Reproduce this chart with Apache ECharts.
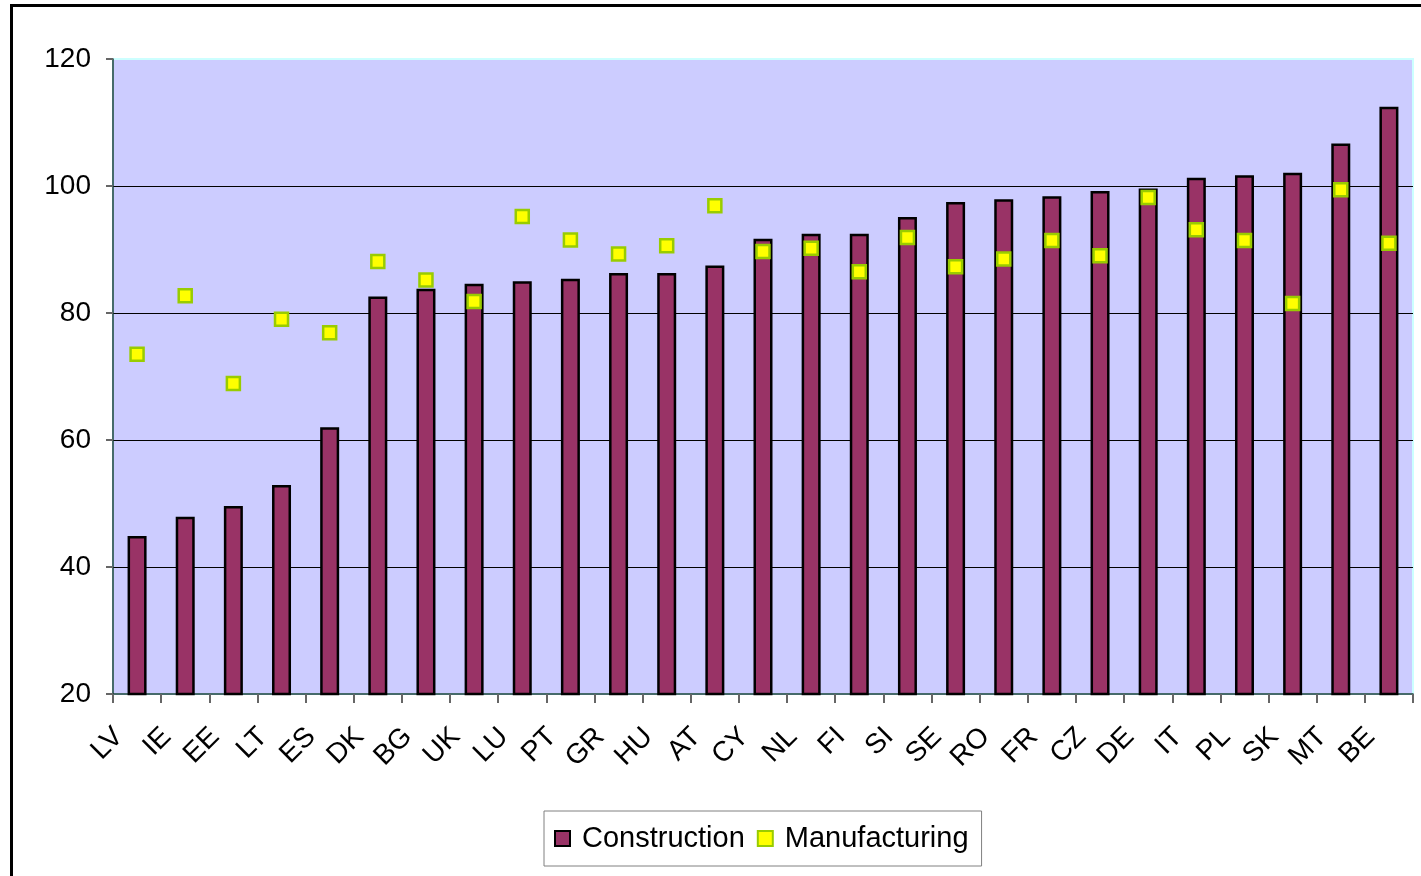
<!DOCTYPE html>
<html>
<head>
<meta charset="utf-8">
<script src="https://cdn.jsdelivr.net/npm/echarts@6/dist/echarts.min.js"></script>
<style>
html,body{margin:0;padding:0;background:#fff;overflow:hidden;}
#chart{width:1421px;height:876px;}
</style>
</head>
<body>
<div id="chart"></div>
<script>
const categories = ['LV','IE','EE','LT','ES','DK','BG','UK','LU','PT','GR','HU','AT','CY','NL','FI','SI','SE','RO','FR','CZ','DE','IT','PL','SK','MT','BE'];
const construction = [44.9,47.9,49.6,52.9,62.0,82.6,83.8,84.6,85.0,85.4,86.3,86.3,87.5,91.7,92.5,92.5,95.1,97.5,97.9,98.4,99.2,99.6,101.3,101.7,102.1,106.7,112.5];
const manufacturing = [73.5,82.7,68.9,79.0,76.9,88.1,85.2,81.8,95.2,91.5,89.3,90.6,96.9,89.7,90.2,86.5,91.9,87.3,88.5,91.4,89.0,98.2,93.1,91.4,81.5,99.4,91.0];
const yTicks = {min:20, max:120, interval:20};

const chart = echarts.init(document.getElementById('chart'), null, {renderer:'canvas'});
chart.setOption({
  animation:false,
  textStyle:{fontFamily:'Liberation Sans, Arial, sans-serif'},
  graphic:[{
    type:'rect', silent:true, z:-10,
    shape:{x:11.5, y:5.5, width:1600, height:1000},
    style:{fill:'#ffffff', stroke:'#000000', lineWidth:3}
  }],
  grid:{left:113, right:8, top:59, bottom:182, show:true, backgroundColor:'#CCCCFF', borderColor:'#CCFFFF', borderWidth:2},
  legend:{
    left:544, top:811, orient:'horizontal',
    backgroundColor:'#ffffff', borderColor:'#808080', borderWidth:1,
    padding:[13,13,13,10], itemGap:12, itemWidth:15, itemHeight:15,
    textStyle:{fontSize:29, color:'#000', padding:[0,0,0,7], fontFamily:'Liberation Sans, Arial, sans-serif'},
    data:[{name:'Construction', icon:'rect'},{name:'Manufacturing', icon:'rect'}]
  },
  xAxis:{
    type:'category', data:categories, boundaryGap:true,
    axisLine:{show:true, lineStyle:{color:'#1a3a3a', width:1.5}},
    axisTick:{show:true, length:9, lineStyle:{color:'#666', width:2}},
    axisLabel:{rotate:45, fontSize:28, color:'#000', margin:20, interval:0, padding:[0,26,0,0]}
  },
  yAxis:{
    type:'value', min:yTicks.min, max:yTicks.max, interval:yTicks.interval,
    axisLine:{show:true, lineStyle:{color:'#1a3a3a', width:1.5}},
    axisTick:{show:true, length:7, lineStyle:{color:'#666', width:2}},
    axisLabel:{fontSize:28, color:'#000', margin:22},
    splitLine:{show:true, showMaxLine:false, showMinLine:false, lineStyle:{color:'#000', width:1}}
  },
  series:[
    {name:'Construction', type:'bar', data:construction, barWidth:19,
     itemStyle:{color:'#993366', borderColor:'#000', borderWidth:2.5}},
    {name:'Manufacturing', type:'scatter', data:manufacturing, symbol:'rect', symbolSize:13, z:5,
     itemStyle:{color:'#FFFF00', borderColor:'#99CC00', borderWidth:2.5, opacity:1}}
  ]
});
</script>
</body>
</html>
